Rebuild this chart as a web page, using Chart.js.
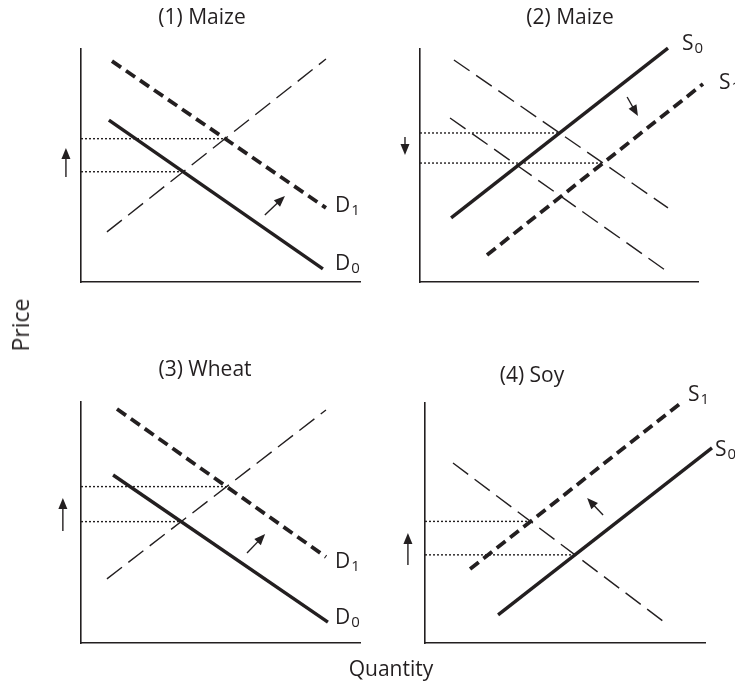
<!DOCTYPE html>
<html>
<head>
<meta charset="utf-8">
<title>Maize, wheat and soy</title>
<script src="https://cdn.jsdelivr.net/npm/chart.js@4.4.1/dist/chart.umd.min.js"></script>
<style>
body{margin:0;background:#fff;font-family:"Open Sans",sans-serif;color:#231f20;}
#wrap{position:relative;width:735px;height:683px;overflow:hidden;}
canvas{position:absolute;}
#price{position:absolute;left:20px;top:325px;transform:translate(-50%,-50%) rotate(-90deg);font-size:23px;}
#qty{position:absolute;left:391px;top:668px;transform:translate(-50%,-50%);font-size:21px;}
</style>
</head>
<body>
<div id="wrap">
<canvas id="c1" width="367" height="300" style="left:0;top:0"></canvas>
<canvas id="c2" width="368" height="300" style="left:367px;top:0"></canvas>
<canvas id="c3" width="367" height="343" style="left:0;top:340px"></canvas>
<canvas id="c4" width="368" height="343" style="left:367px;top:340px"></canvas>
<div id="price">Price</div>
<div id="qty">Quantity</div>
</div>
<script>
// (1) maize - demand moves out
const m1Supply = [{x: 9.3, y: 21.5}, {x: 87.8, y: 95.7}];
const m1D0 = [{x: 10.0, y: 69.5}, {x: 86.7, y: 5.6}];
const m1D1 = [{x: 11.1, y: 94.8}, {x: 87.8, y: 31.8}];
const m1Arrows = [[-5.4, 45.1, -5.4, 57.5], [65.9, 28.8, 73.1, 36.9]];

// (2) maize - supply moves out
const m2S0 = [{x: 11.2, y: 27.5}, {x: 89.2, y: 100.4}];
const m2S1 = [{x: 24.1, y: 11.6}, {x: 101.8, y: 85.0}];
const m2DemandHi = [{x: 12.2, y: 95.3}, {x: 89.2, y: 31.8}];
const m2DemandLo = [{x: 10.8, y: 70.4}, {x: 88.1, y: 5.2}];
const m2Arrows = [[-5.4, 62.2, -5.4, 54.5], [74.5, 79.4, 78.4, 71.2]];

// (3) wheat
const wSupply = [{x: 9.3, y: 26.6}, {x: 87.8, y: 96.7}];
const wD0 = [{x: 11.5, y: 69.7}, {x: 88.5, y: 8.7}];
const wD1 = [{x: 12.9, y: 97.1}, {x: 87.8, y: 35.7}];
const wArrows = [[-6.5, 46.5, -6.5, 60.2], [59.5, 37.3, 66.0, 45.2]];

// (4) soy
const sS0 = [{x: 26.1, y: 11.7}, {x: 102.5, y: 81.3}];
const sS1 = [{x: 16.1, y: 30.8}, {x: 91.8, y: 100.4}];
const sDemand = [{x: 10.0, y: 75.0}, {x: 86.4, y: 7.9}];
const sArrows = [[-6.1, 32.5, -6.1, 45.8], [63.6, 53.3, 57.9, 60.4]];

const INK = '#231f20';
const solid = {borderWidth: 3.4, borderDash: []};
const thickDash = {borderWidth: 3.8, borderDash: [11, 6]};
const thinDash = {borderWidth: 1.4, borderDash: [19, 8]};
const dotted = {borderWidth: 1.4, borderDash: [2, 2]};

// where two straight lines meet
function cross(a, b) {
  const m1 = (a[1].y - a[0].y) / (a[1].x - a[0].x);
  const m2 = (b[1].y - b[0].y) / (b[1].x - b[0].x);
  const x = (b[0].y - a[0].y + m1 * a[0].x - m2 * b[0].x) / (m1 - m2);
  return {x: x, y: a[0].y + m1 * (x - a[0].x)};
}

function priceLine(a, b) {
  const p = cross(a, b);
  return [{x: 0, y: p.y}, {x: p.x, y: p.y}];
}

function ds(data, style) {
  return Object.assign({data: data, borderColor: INK, showLine: true, pointRadius: 0, clip: false, fill: false}, style);
}

function arrow(ctx, x0, y0, x1, y1) {
  const ang = Math.atan2(y1 - y0, x1 - x0);
  const c = Math.cos(ang), s = Math.sin(ang);
  ctx.lineWidth = 1.4;
  ctx.setLineDash([]);
  ctx.beginPath();
  ctx.moveTo(x0, y0);
  ctx.lineTo(x1 - 7 * c, y1 - 7 * s);
  ctx.stroke();
  ctx.beginPath();
  ctx.moveTo(x1, y1);
  ctx.lineTo(x1 - 11 * c + 4.5 * s, y1 - 11 * s - 4.5 * c);
  ctx.lineTo(x1 - 11 * c - 4.5 * s, y1 - 11 * s + 4.5 * c);
  ctx.closePath();
  ctx.fill();
}

function extras(title, tx, ty, labels, arrows) {
  return {
    id: 'extras',
    afterDatasetsDraw(chart) {
      const ctx = chart.ctx;
      const xs = chart.scales.x, ys = chart.scales.y;
      ctx.save();
      ctx.fillStyle = INK;
      ctx.strokeStyle = INK;
      ctx.font = '21px "Open Sans"';
      ctx.textAlign = 'center';
      ctx.textBaseline = 'middle';
      ctx.fillText(title, tx, ty);
      ctx.textAlign = 'left';
      labels.forEach(l => {
        const px = xs.getPixelForValue(l.at.x) + l.dx;
        const py = ys.getPixelForValue(l.at.y) + l.dy;
        ctx.font = '21px "Open Sans"';
        ctx.fillText(l.name, px, py);
        const w = ctx.measureText(l.name).width;
        ctx.font = '15px "Open Sans"';
        ctx.fillText(l.sub, px + w + 1, py + 5);
      });
      arrows.forEach(a => {
        arrow(ctx, xs.getPixelForValue(a[0]), ys.getPixelForValue(a[1]),
          xs.getPixelForValue(a[2]), ys.getPixelForValue(a[3]));
      });
      ctx.restore();
    }
  };
}

function makePanel(id, pad, datasets, plugin) {
  const axis = {
    type: 'linear', min: 0, max: 100,
    grid: {display: false, drawTicks: false},
    ticks: {display: false},
    border: {display: true, color: INK, width: 1.6}
  };
  return new Chart(document.getElementById(id), {
    type: 'scatter',
    data: {datasets: datasets},
    options: {
      responsive: false,
      animation: false,
      layout: {padding: pad},
      plugins: {legend: {display: false}, tooltip: {enabled: false}, title: {display: false}},
      scales: {x: axis, y: Object.assign({}, axis)}
    },
    plugins: [plugin]
  });
}

makePanel('c1', {left: 81, top: 49, right: 7, bottom: 18}, [
  ds(priceLine(m1Supply, m1D1), dotted),
  ds(priceLine(m1Supply, m1D0), dotted),
  ds(m1Supply, thinDash),
  ds(m1D0, solid),
  ds(m1D1, thickDash)
], extras('(1) Maize', 202, 18, [
  {name: 'D', sub: '1', at: m1D1[1], dx: 9, dy: -2},
  {name: 'D', sub: '0', at: m1D0[1], dx: 12, dy: -5}
], m1Arrows));

makePanel('c2', {left: 53, top: 49, right: 37, bottom: 18}, [
  ds(priceLine(m2S0, m2DemandHi), dotted),
  ds(priceLine(m2S1, m2DemandHi), dotted),
  ds(m2DemandHi, thinDash),
  ds(m2DemandLo, thinDash),
  ds(m2S0, solid),
  ds(m2S1, thickDash)
], extras('(2) Maize', 203, 18, [
  {name: 'S', sub: '0', at: m2S0[1], dx: 14, dy: -4},
  {name: 'S', sub: '1', at: m2S1[1], dx: 16, dy: -1}
], m2Arrows));

makePanel('c3', {left: 81, top: 62, right: 7, bottom: 40}, [
  ds(priceLine(wSupply, wD1), dotted),
  ds(priceLine(wSupply, wD0), dotted),
  ds(wSupply, thinDash),
  ds(wD0, solid),
  ds(wD1, thickDash)
], extras('(3) Wheat', 205, 30, [
  {name: 'D', sub: '1', at: wD1[1], dx: 9, dy: 5},
  {name: 'D', sub: '0', at: wD0[1], dx: 7, dy: -4}
], wArrows));

makePanel('c4', {left: 58, top: 63, right: 30, bottom: 40}, [
  ds(priceLine(sS1, sDemand), dotted),
  ds(priceLine(sS0, sDemand), dotted),
  ds(sDemand, thinDash),
  ds(sS0, solid),
  ds(sS1, thickDash)
], extras('(4) Soy', 165, 36, [
  {name: 'S', sub: '1', at: sS1[1], dx: 6, dy: -7},
  {name: 'S', sub: '0', at: sS0[1], dx: 3, dy: 2}
], sArrows));
</script>
</body>
</html>
